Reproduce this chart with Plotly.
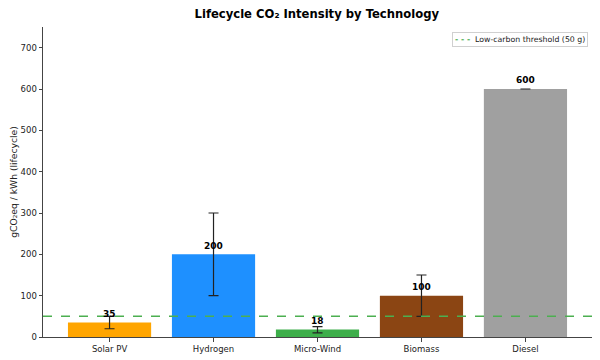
import plotly.graph_objects as go

technologies = ["Solar PV", "Hydrogen", "Micro-Wind", "Biomass", "Diesel"]
intensity = [35, 200, 18, 100, 600]
err_low = [20, 100, 10, 50, 600]
err_high = [50, 300, 25, 150, 600]
colors = ["#FFA500", "#1E90FF", "#3DAE4A", "#8B4513", "#A0A0A0"]
threshold = 50
threshold_label = "Low-carbon threshold (50 g)"
y_ticks = [0, 100, 200, 300, 400, 500, 600, 700]

minus = [v - lo for v, lo in zip(intensity, err_low)]
plus = [hi - v for v, hi in zip(intensity, err_high)]

FONT = "DejaVu Sans"
fig = go.Figure()
fig.add_trace(go.Bar(
    x=technologies, y=intensity, width=0.8,
    marker=dict(color=colors, line=dict(width=0)),
    error_y=dict(type="data", symmetric=False, array=plus, arrayminus=minus,
                 color="#222222", thickness=1.2, width=5),
    showlegend=False,
))
fig.add_hline(y=threshold, line=dict(color="#4CAF50", width=1.5, dash="dash"))
for t, v in zip(technologies, intensity):
    fig.add_annotation(x=t, y=v + 21, text=f"<b>{v}</b>", showarrow=False,
                       yanchor="middle", font=dict(family=FONT, size=9, color="black"))

# legend box for the threshold line
fig.add_annotation(
    xref="paper", yref="paper", x=0.993, y=0.984, xanchor="right", yanchor="top",
    showarrow=False, align="left",
    text=f"<span style='color:#4CAF50'><b>- - -</b></span>  {threshold_label}",
    font=dict(family=FONT, size=7.8, color="#222"),
    bgcolor="white", bordercolor="#d0d0d0", borderwidth=1, borderpad=2,
)

fig.update_layout(
    width=600, height=360,
    margin=dict(l=43, r=8, t=27, b=23),
    paper_bgcolor="white", plot_bgcolor="white",
    font=dict(family=FONT, size=9, color="#222"),
    title=dict(text="<b>Lifecycle CO₂ Intensity by Technology</b>", x=0.528, xanchor="center",
               y=0.962, yanchor="middle", font=dict(family=FONT, size=11.6, color="black")),
    showlegend=False,
    bargap=0.2,
)
fig.update_xaxes(range=[-0.64, 4.64], showline=True, linecolor="#444", linewidth=1,
                 ticks="outside", ticklen=3.5, tickcolor="#444", showgrid=False,
                 tickfont=dict(size=8.5), automargin=False)
fig.update_yaxes(range=[0, 750], tickvals=y_ticks, showline=True, linecolor="#444", linewidth=1,
                 ticks="outside", ticklen=3.5, tickcolor="#444", showgrid=False, zeroline=False,
                 tickfont=dict(size=8.5), automargin=False,
                 title=dict(text="gCO₂eq / kWh (lifecycle)", font=dict(size=9.2), standoff=1))
fig.write_html("out.html", config={"displayModeBar": False},
               post_script="document.body.style.margin='0';")
